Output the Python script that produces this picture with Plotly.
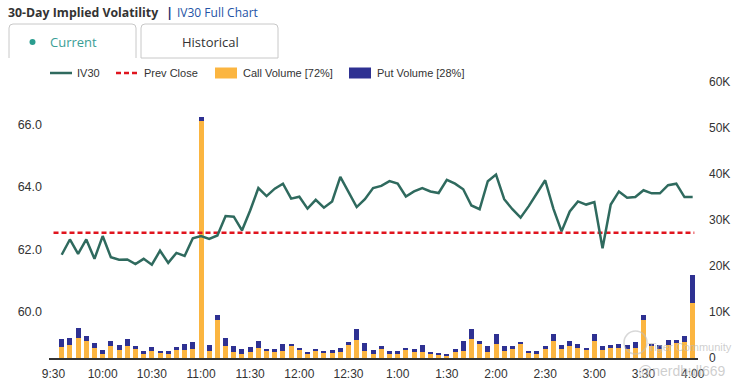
import plotly.graph_objects as go
import pandas as pd

# ---------------- data ----------------
day = "2024-01-02"
times = pd.date_range(f"{day} 09:35", f"{day} 16:00", freq="5min")

iv30 = [61.83, 62.32, 61.86, 62.32, 61.70, 62.43, 61.75, 61.67, 61.68, 61.53,
        61.70, 61.51, 61.96, 61.57, 61.89, 61.79, 62.36, 62.43, 62.34, 62.45,
        63.07, 63.05, 62.61, 63.25, 63.97, 63.71, 63.95, 64.11, 63.63, 63.69,
        63.31, 63.59, 63.34, 63.54, 64.33, 63.84, 63.36, 63.61, 63.97, 64.04,
        64.19, 64.11, 63.70, 63.86, 63.97, 63.86, 63.81, 64.23, 64.11, 63.93,
        63.41, 63.29, 64.19, 64.40, 63.61, 63.29, 63.02, 63.39, 63.79, 64.22,
        63.31, 62.58, 63.22, 63.54, 63.44, 63.52, 62.04, 63.44, 63.86, 63.66,
        63.68, 63.90, 63.80, 63.80, 64.06, 64.11, 63.68, 63.68]

call_volume = [2400, 2760, 4430, 3630, 2250, 940, 2540, 1815, 2540, 2030,
               800, 1600, 1160, 800, 1670, 1815, 2030, 51500, 1525, 8200,
               2610, 1300, 940, 1300, 2250, 1670, 1300, 1525, 2540, 1670,
               940, 1525, 1160, 1160, 1300, 2760, 3850, 1525, 800, 1890,
               800, 800, 1815, 1300, 1300, 800, 730, 510, 1300, 1450,
               4210, 2980, 1300, 3120, 1450, 2030, 3050, 1090, 940, 1890,
               3630, 2030, 2540, 2180, 1670, 3630, 1815, 2250, 2250, 2030,
               2250, 8350, 2760, 2030, 2760, 3270, 3480, 11980]

put_volume = [1810, 1670, 2170, 1090, 1020, 730, 1160, 945, 1600, 660,
              650, 870, 290, 650, 800, 1165, 1380, 900, 1235, 1090,
              1820, 1390, 950, 1170, 1380, 290, 660, 1455, 580, 580,
              220, 505, 290, 580, 950, 720, 2540, 1745, 870, 650,
              650, 725, 365, 730, 1460, 500, 430, 290, 590, 2250,
              2180, 720, 1240, 2030, 1090, 510, 430, 435, 510, 650,
              1520, 730, 1160, 800, 580, 1520, 725, 510, 730, 730,
              1230, 940, 360, 730, 1230, 720, 1240, 6020]

prev_close = 62.54

x_tick_times = ["09:30", "10:00", "10:30", "11:00", "11:30", "12:00", "12:30",
                "13:00", "13:30", "14:00", "14:30", "15:00", "15:30", "16:00"]
x_tick_labels = ["9:30", "10:00", "10:30", "11:00", "11:30", "12:00", "12:30",
                 "1:00", "1:30", "2:00", "2:30", "3:00", "3:30", "4:00"]
iv_ticks = [60, 62, 64, 66]
vol_ticks = [0, 10000, 20000, 30000, 40000, 50000, 60000]
vol_tick_labels = ["0", "10K", "20K", "30K", "40K", "50K", "60K"]

call_pct, put_pct = 72, 28

# ---------------- style ----------------
W, H = 742, 387
L, R, T, B = 49, 44, 82, 29
TEAL = "#2F6A5E"
RED = "#E0141E"
CALL = "#FBB540"
PUT = "#2E3192"
FONT = "Liberation Sans, Arial, sans-serif"

def px(xp):
    return (xp - L) / (W - L - R)

def py(yp):
    return (H - B - yp) / (H - T - B)

fig = go.Figure()

fig.add_trace(go.Bar(x=times, y=call_volume, name=f"Call Volume [{call_pct}%]",
                     marker=dict(color=CALL, line=dict(width=0)),
                     width=183000, yaxis="y", showlegend=False))
fig.add_trace(go.Bar(x=times, y=put_volume, name=f"Put Volume [{put_pct}%]",
                     marker=dict(color=PUT, line=dict(width=0)),
                     width=183000, yaxis="y", showlegend=False))
fig.add_trace(go.Scatter(x=[pd.Timestamp(f"{day} 09:30"), pd.Timestamp(f"{day} 16:01")],
                         y=[prev_close, prev_close], mode="lines", name="Prev Close",
                         line=dict(color=RED, width=2.5, dash="5px,3px"),
                         yaxis="y2", showlegend=False))
fig.add_trace(go.Scatter(x=times, y=iv30, mode="lines", name="IV30",
                         line=dict(color=TEAL, width=2.5),
                         yaxis="y2", showlegend=False))

fig.update_layout(
    width=W, height=H,
    margin=dict(l=L, r=R, t=T, b=B, autoexpand=False),
    paper_bgcolor="white", plot_bgcolor="white",
    barmode="stack", bargap=0,
    font=dict(family=FONT, size=12, color="#333333"),
    xaxis=dict(type="date", automargin=False,
               range=[f"{day} 09:27:15", f"{day} 16:03:15"],
               tickvals=[f"{day} {t}" for t in x_tick_times],
               ticktext=x_tick_labels,
               showgrid=False, zeroline=False,
               showline=True, linecolor="#333333", linewidth=1.5,
               ticks="", ticklabelstandoff=4,
               tickfont=dict(size=12, color="#333333")),
    yaxis=dict(side="right", range=[0, 60000], automargin=False,
               tickvals=vol_ticks, ticktext=vol_tick_labels,
               showgrid=False, zeroline=False, showline=False, ticks="",
               ticklabelstandoff=10,
               tickfont=dict(size=12, color="#333333")),
    yaxis2=dict(side="left", overlaying="y", range=[58.52, 67.37], automargin=False,
                tickvals=iv_ticks, tickformat=".1f",
                showgrid=False, zeroline=False, showline=False, ticks="",
                ticklabelstandoff=6,
                tickfont=dict(size=12.5, color="#333333")),
)

shapes = []
annotations = []

# header
annotations.append(dict(x=px(6), y=py(12), xref="paper", yref="paper",
                        xanchor="left", yanchor="middle", showarrow=False,
                        text="<b>30-Day Implied Volatility</b>",
                        font=dict(family="Open Sans, sans-serif", size=12.3, color="#333333")))
annotations.append(dict(x=px(164), y=py(12), xref="paper", yref="paper",
                        xanchor="left", yanchor="middle", showarrow=False,
                        text="<b>|</b>",
                        font=dict(family="Open Sans, sans-serif", size=13, color="#1B2E6E")))
annotations.append(dict(x=px(175), y=py(12), xref="paper", yref="paper",
                        xanchor="left", yanchor="middle", showarrow=False,
                        text="IV30 Full Chart",
                        font=dict(family="Open Sans, sans-serif", size=12, color="#2453A6")))

# tabs
def tab_path(x0, x1, y0, y1, r=4, closed_bottom=False):
    p = (f"M {px(x0)},{py(y1)} L {px(x0)},{py(y0 + r)} "
         f"Q {px(x0)},{py(y0)} {px(x0 + r)},{py(y0)} "
         f"L {px(x1 - r)},{py(y0)} Q {px(x1)},{py(y0)} {px(x1)},{py(y0 + r)} "
         f"L {px(x1)},{py(y1)}")
    if closed_bottom:
        p += f" L {px(x0)},{py(y1)}"
    return p

shapes.append(dict(type="path", xref="paper", yref="paper",
                   path=tab_path(9, 136, 24, 58), line=dict(color="#C8C8C8", width=1)))
shapes.append(dict(type="path", xref="paper", yref="paper",
                   path=tab_path(141, 278, 24, 58, closed_bottom=True),
                   line=dict(color="#C8C8C8", width=1)))
shapes.append(dict(type="circle", xref="paper", yref="paper",
                   x0=px(29.5), x1=px(35.5), y0=py(39), y1=py(45),
                   fillcolor="#2A9D8F", line=dict(width=0)))
annotations.append(dict(x=px(48), y=py(42), xref="paper", yref="paper",
                        xanchor="left", yanchor="middle", showarrow=False,
                        text="Current",
                        font=dict(family="Open Sans, sans-serif", size=13, color="#3A9E96")))
annotations.append(dict(x=px(210), y=py(42), xref="paper", yref="paper",
                        xanchor="center", yanchor="middle", showarrow=False,
                        text="Historical",
                        font=dict(family="Open Sans, sans-serif", size=13, color="#333333")))

# legend (drawn)
LY = 73
shapes.append(dict(type="line", xref="paper", yref="paper",
                   x0=px(50), x1=px(72), y0=py(LY), y1=py(LY),
                   line=dict(color=TEAL, width=2.5)))
shapes.append(dict(type="line", xref="paper", yref="paper",
                   x0=px(116), x1=px(138), y0=py(LY), y1=py(LY),
                   line=dict(color=RED, width=2.5, dash="5px,3px")))
shapes.append(dict(type="rect", xref="paper", yref="paper",
                   x0=px(215), x1=px(237), y0=py(67.5), y1=py(78.5),
                   fillcolor=CALL, line=dict(width=0)))
shapes.append(dict(type="rect", xref="paper", yref="paper",
                   x0=px(349), x1=px(371), y0=py(67.5), y1=py(78.5),
                   fillcolor=PUT, line=dict(width=0)))
for xt, txt in [(75, "IV30"), (142, "Prev Close"),
                (240.5, f"Call Volume [{call_pct}%]"), (375, f"Put Volume [{put_pct}%]")]:
    annotations.append(dict(x=px(xt), y=py(LY), xref="paper", yref="paper",
                            xanchor="left", yanchor="middle", showarrow=False,
                            text=txt, font=dict(family=FONT, size=11, color="#333333")))

# watermark
shapes.append(dict(type="circle", xref="paper", yref="paper",
                   x0=px(624), x1=px(647), y0=py(331), y1=py(354),
                   line=dict(color="rgba(190,190,190,0.6)", width=1.5)))
annotations.append(dict(x=px(646), y=py(347), xref="paper", yref="paper",
                        xanchor="left", yanchor="middle", showarrow=False,
                        text="Tiger Community",
                        font=dict(family=FONT, size=11, color="rgba(185,185,185,0.7)")))
annotations.append(dict(x=px(636), y=py(371), xref="paper", yref="paper",
                        xanchor="left", yanchor="middle", showarrow=False,
                        text="@nerdbull669",
                        font=dict(family=FONT, size=14, color="rgba(185,185,185,0.7)")))

fig.update_layout(shapes=shapes, annotations=annotations)
fig.write_html("out.html", config={"displayModeBar": False},
               post_script="document.body.style.margin='0';document.body.style.padding='0';")
